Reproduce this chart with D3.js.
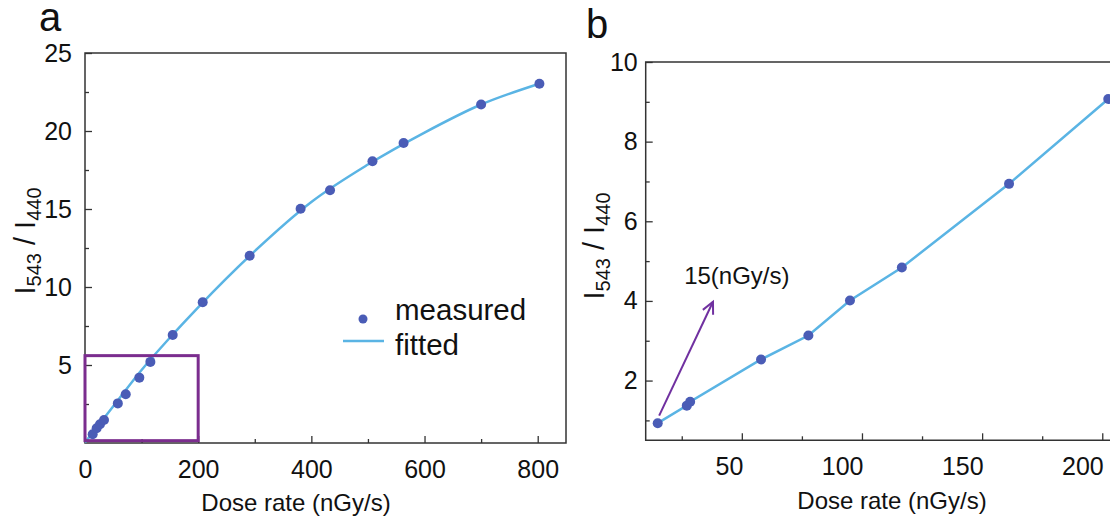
<!DOCTYPE html>
<html><head><meta charset="utf-8">
<script src="https://cdn.jsdelivr.net/npm/d3@7"></script>
<style>body{margin:0;background:#fff}svg{display:block;font-family:"Liberation Sans",Arial,Helvetica,sans-serif}</style>
</head><body><svg id="c" width="1110" height="524"></svg>
<script>
// ---- data ----
const doseA  = [13.6, 20.6, 26.5, 33.6, 58, 72, 96, 115.5, 155, 208, 291, 381, 433, 508, 563, 700, 803];
const ratioA = [0.56, 0.94, 1.2, 1.47, 2.54, 3.12, 4.19, 5.2, 6.92, 9.02, 12.0, 15.02, 16.2, 18.06, 19.23, 21.7, 23.03];
const fitDose  = [0, 50, 100, 150, 200, 300, 400, 500, 600, 700, 800];
const fitRatio = [0.03, 2.36, 4.68, 6.75, 8.7, 12.3, 15.45, 17.85, 19.9, 21.7, 23.0];
const doseB  = [15, 27.1, 28.5, 58, 77.7, 95, 116.6, 161.2, 202.5];
const ratioB = [0.93, 1.37, 1.47, 2.53, 3.13, 4.01, 4.84, 6.94, 9.07];
const xTicksA = [0, 200, 400, 600, 800], xMinorA = [100, 300, 500, 700];
const yTicksA = [5, 10, 15, 20, 25], yMinorA = [2.5, 7.5, 12.5, 17.5, 22.5];
const xTicksB = [50, 100, 150, 200], xMinorB = [25, 75, 125, 175];
const yTicksB = [2, 4, 6, 8, 10], yMinorB = [1, 3, 5, 7, 9];
const boxDose = [0, 200], boxRatio = [0.15, 5.6];
const arrowDose = [15.6, 38], arrowRatio = [1.12, 3.98];
const annot = {text: "15(nGy/s)", dose: 26, ratio: 4.43};
const legendLabels = ["measured", "fitted"];

const PT = "#4a5cb6", LN = "#5ab4e4", PUR = "#7b2d8e", AX = "#333";
const svg = d3.select("#c");

// ---- scales ----
const xA = d3.scaleLinear([0, 850], [85, 566]);
const yA = d3.scaleLinear([0, 25], [443, 53]);
const xB = d3.scaleLinear([10, 213], [645.7, 645.7 + 203 * 2.403]);
const yB = d3.scaleLinear([0.5, 10], [440.3, 62]);

function styleAxis(g, fs) {
  g.select(".domain").remove();
  g.selectAll(".tick line").attr("stroke", AX).attr("stroke-width", 1.3);
  g.selectAll(".tick text").attr("font-size", fs).attr("fill", "#111")
    .attr("font-family", '"Liberation Sans",Arial,sans-serif');
}
function axes(x, y, xt, xm, yt, ym, y0, x0, ypad, xEnd) {
  const gx = svg.append("g").attr("transform", `translate(0,${y0})`)
    .call(d3.axisBottom(x).tickValues(xt).tickSize(-7).tickPadding(17).tickFormat(d3.format("d")));
  styleAxis(gx, 25);
  if (xEnd) gx.selectAll(".tick text").attr("text-anchor", "end").attr("dx", 1);
  const gxm = svg.append("g").attr("transform", `translate(0,${y0})`)
    .call(d3.axisBottom(x).tickValues(xm).tickSize(-4).tickFormat(""));
  styleAxis(gxm, 25);
  const gy = svg.append("g").attr("transform", `translate(${x0},0)`)
    .call(d3.axisLeft(y).tickValues(yt).tickSize(-7).tickPadding(ypad).tickFormat(d3.format("d")));
  styleAxis(gy, 25);
  const gym = svg.append("g").attr("transform", `translate(${x0},0)`)
    .call(d3.axisLeft(y).tickValues(ym).tickSize(-4).tickFormat(""));
  styleAxis(gym, 25);
}

// ================= Panel a =================
axes(xA, yA, xTicksA, xMinorA, yTicksA, yMinorA, yA(0), xA(0), 13, false);
svg.append("rect").attr("x", xA(0)).attr("y", yA(25))
  .attr("width", xA(850) - xA(0)).attr("height", yA(0) - yA(25))
  .attr("fill", "none").attr("stroke", AX).attr("stroke-width", 1.5);

const fitData = fitDose.map((d, i) => [d, fitRatio[i]]);
svg.append("path").datum(fitData)
  .attr("d", d3.line().x(d => xA(d[0])).y(d => yA(d[1])).curve(d3.curveMonotoneX))
  .attr("fill", "none").attr("stroke", LN).attr("stroke-width", 2.5);

svg.append("rect").attr("x", xA(boxDose[0])).attr("y", yA(boxRatio[1]))
  .attr("width", xA(boxDose[1]) - xA(boxDose[0])).attr("height", yA(boxRatio[0]) - yA(boxRatio[1]))
  .attr("fill", "none").attr("stroke", PUR).attr("stroke-width", 3);

svg.append("g").selectAll("circle").data(doseA.map((d, i) => [d, ratioA[i]])).join("circle")
  .attr("cx", d => xA(d[0])).attr("cy", d => yA(d[1])).attr("r", 5).attr("fill", PT);

// legend
svg.append("circle").attr("cx", 363).attr("cy", 319).attr("r", 4.5).attr("fill", PT);
svg.append("line").attr("x1", 343).attr("x2", 384).attr("y1", 341).attr("y2", 341)
  .attr("stroke", LN).attr("stroke-width", 2.5);
svg.append("text").attr("x", 395).attr("y", 320).attr("font-size", 29.5).attr("fill", "#111").text(legendLabels[0]);
svg.append("text").attr("x", 395).attr("y", 355).attr("font-size", 29.5).attr("fill", "#111").text(legendLabels[1]);

// labels
svg.append("text").attr("x", 296).attr("y", 511).attr("text-anchor", "middle")
  .attr("font-size", 24).attr("fill", "#111").text("Dose rate (nGy/s)");
function yLabel(cx, cy) {
  const t = svg.append("text").attr("transform", `translate(${cx},${cy}) rotate(-90)`)
    .attr("text-anchor", "middle").attr("font-size", 29).attr("fill", "#111");
  t.append("tspan").text("I");
  t.append("tspan").attr("font-size", 20).attr("dy", 6).text("543");
  t.append("tspan").attr("dy", -6).text(" / I");
  t.append("tspan").attr("font-size", 20).attr("dy", 6).text("440");
}
yLabel(35, 241);
svg.append("text").attr("x", 39).attr("y", 31).attr("font-size", 40).attr("fill", "#111").text("a");

// ================= Panel b =================
axes(xB, yB, xTicksB, xMinorB, yTicksB, yMinorB, yB(0.5), xB(10), 8, true);
const bx0 = xB(10), bx1 = xB(213);
svg.append("path")
  .attr("d", `M${bx1},${yB(10)}H${bx0}V${yB(0.5)}H${bx1}`)
  .attr("fill", "none").attr("stroke", AX).attr("stroke-width", 1.5);

const dataB = doseB.map((d, i) => [d, ratioB[i]]);
svg.append("path").datum(dataB)
  .attr("d", d3.line().x(d => xB(d[0])).y(d => yB(d[1])))
  .attr("fill", "none").attr("stroke", LN).attr("stroke-width", 2.5);
svg.append("g").selectAll("circle").data(dataB).join("circle")
  .attr("cx", d => xB(d[0])).attr("cy", d => yB(d[1])).attr("r", 5).attr("fill", PT);

// arrow annotation
const ax1 = xB(arrowDose[0]), ay1 = yB(arrowRatio[0]), ax2 = xB(arrowDose[1]), ay2 = yB(arrowRatio[1]);
svg.append("line").attr("x1", ax1).attr("y1", ay1).attr("x2", ax2).attr("y2", ay2)
  .attr("stroke", "#7030a0").attr("stroke-width", 2);
const ang = Math.atan2(ay2 - ay1, ax2 - ax1), L = 13, sp = 0.45;
const p1 = [ax2 - L * Math.cos(ang - sp), ay2 - L * Math.sin(ang - sp)];
const p2 = [ax2 - L * Math.cos(ang + sp), ay2 - L * Math.sin(ang + sp)];
svg.append("path").attr("d", `M${p1}L${ax2},${ay2}L${p2}`)
  .attr("fill", "none").attr("stroke", "#7030a0").attr("stroke-width", 2);
svg.append("text").attr("x", xB(annot.dose)).attr("y", yB(annot.ratio))
  .attr("font-size", 24).attr("fill", "#111").text(annot.text);

svg.append("text").attr("x", 892).attr("y", 509).attr("text-anchor", "middle")
  .attr("font-size", 24).attr("fill", "#111").text("Dose rate (nGy/s)");
yLabel(604, 246);
svg.append("text").attr("x", 586).attr("y", 38).attr("font-size", 40).attr("fill", "#111").text("b");
</script></body></html>
